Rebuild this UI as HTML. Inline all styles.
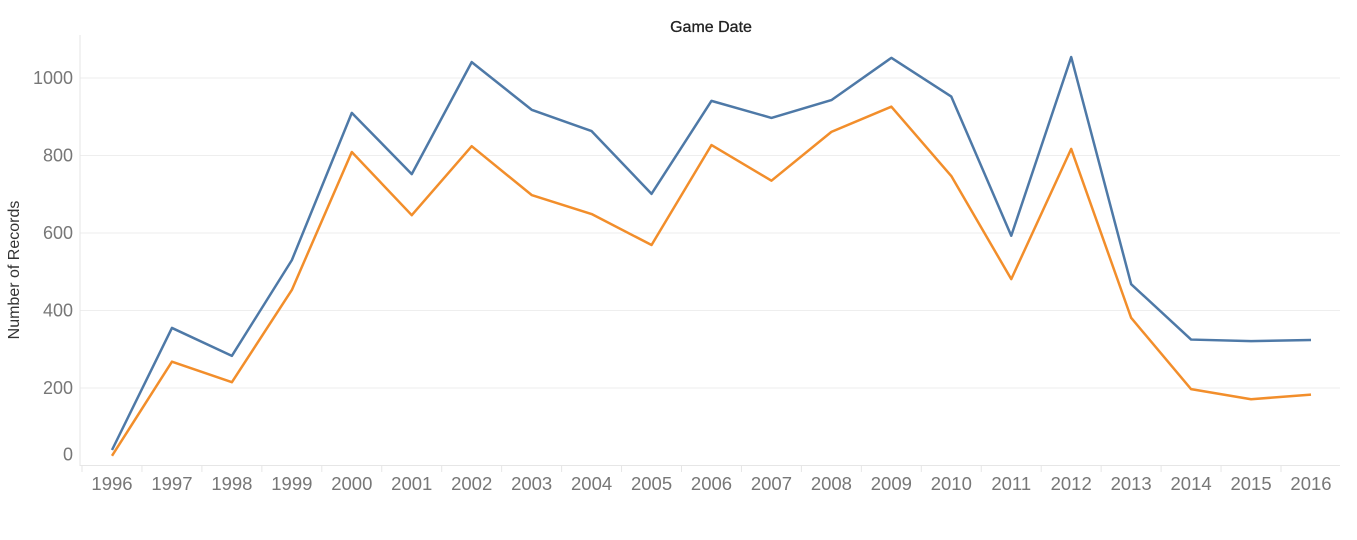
<!DOCTYPE html>
<html><head><meta charset="utf-8"><style>
body{margin:0;background:#fff;font-family:"Liberation Sans",sans-serif;}
svg{display:block}
</style></head><body>
<svg id="chart" width="1357" height="540" xmlns="http://www.w3.org/2000/svg">
<text x="711" y="32" text-anchor="middle" font-size="16" fill="#222" stroke="#222" stroke-width="0.3">Game Date</text>
<text transform="translate(19,270) rotate(-90)" text-anchor="middle" font-size="16" fill="#333">Number of Records</text>
<g id="grid"></g><g id="ticks"></g><g id="lines"></g>
</svg>
<script>
const years=[1996,1997,1998,1999,2000,2001,2002,2003,2004,2005,2006,2007,2008,2009,2010,2011,2012,2013,2014,2015,2016];
const seriesBlue=[40,355,283,530,910,752,1041,918,863,701,941,897,943,1052,952,593,1054,468,325,321,324];
const seriesOrange=[25,268,215,453,809,646,824,698,649,569,827,735,861,926,747,481,817,381,197,171,183];
const yTicks=[0,200,400,600,800,1000];
const NS="http://www.w3.org/2000/svg";
const x=i=>112+i*59.95;
const y=v=>465.5-v*0.3875;
function mk(tag,attrs,parent){const e=document.createElementNS(NS,tag);for(const k in attrs)e.setAttribute(k,attrs[k]);parent.appendChild(e);return e;}
const grid=document.getElementById('grid'),ticks=document.getElementById('ticks'),lines=document.getElementById('lines');
yTicks.forEach(t=>{
  if(t>0){const g=mk('line',{x1:80,x2:1340,y1:y(t),y2:y(t),stroke:'#eeeeee','stroke-width':1},grid);
  
  }
  const l=mk('text',{x:73,y:(t===0?y(t)-5:y(t)+6),'text-anchor':'end','font-size':18,fill:'#777'},ticks);
  l.textContent=t;
  
  
});
const ax=mk('line',{x1:80,x2:1340,y1:465.5,y2:465.5,stroke:'#e6e6e6','stroke-width':1},grid);


const ay=mk('line',{x1:80,x2:80,y1:35,y2:466,stroke:'#e6e6e6','stroke-width':1},grid);


years.forEach((yr,i)=>{
  const tk=mk('line',{x1:x(i)-30,x2:x(i)-30,y1:466,y2:472,stroke:'#e6e6e6','stroke-width':1},grid);
  
  
  const l=mk('text',{x:x(i),y:490,'text-anchor':'middle','font-size':18.5,fill:'#777'},ticks);
  l.textContent=yr;
  
  
});
function draw(data,color,name){
  const p=mk('polyline',{points:data.map((v,i)=>x(i)+','+y(v)).join(' '),fill:'none',stroke:color,'stroke-width':2.5,'stroke-linejoin':'round'},lines);
  
  
}
draw(seriesBlue,'#4e79a7','series-blue-line');
draw(seriesOrange,'#f28e2b','series-orange-line');
</script>
</body></html>
